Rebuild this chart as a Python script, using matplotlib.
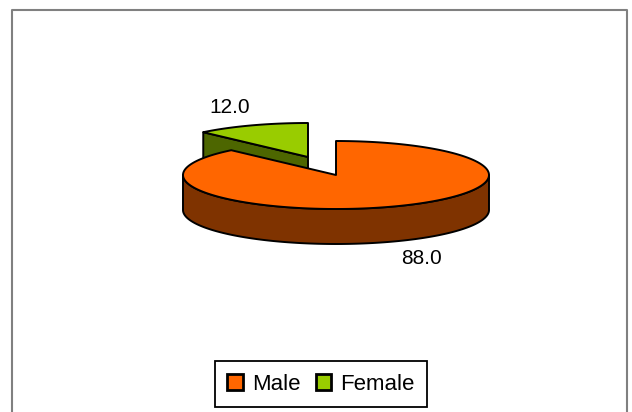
import numpy as np
import matplotlib
matplotlib.use("Agg")
import matplotlib.pyplot as plt
from matplotlib.patches import Polygon, Patch
from matplotlib.lines import Line2D

plt.rcParams['font.family'] = ['Liberation Sans', 'DejaVu Sans']

# data
labels = ['Male', 'Female']
values = [88.0, 12.0]
top_colors = ['#FF6600', '#99CC00']
side_colors = ['#7F3300', '#4D6600']
explode = [0.0, 1.0]   # female slice pulled out

# geometry of the 3d pie (pixels, y down)
W, H = 632, 412
cx, cy = 336, 175
a, b = 153, 34
depth = 35
pull = np.array([-28, -18])

fig = plt.figure(figsize=(W / 100, H / 100), dpi=100)
ax = fig.add_axes([0, 0, 1, 1])
ax.set_xlim(0, W)
ax.set_ylim(H, 0)
ax.axis('off')

# chart border (no bottom edge visible)
ax.add_line(Line2D([12, 12, 627, 627], [H + 5, 10, 10, H + 5], color='#808080', lw=1.5))


def rim(c, t, dz=0.0):
    t = np.radians(t)
    return np.column_stack([c[0] + a * np.cos(t), c[1] - b * np.sin(t) + dz])


fracs = np.array(values) / sum(values)
starts = 90 - 360 * np.concatenate([[0], np.cumsum(fracs)[:-1]])
ends = starts - 360 * fracs
centers = [np.array([cx, cy]) + e * pull for e in explode]

kw = dict(ec='black', lw=1.4, joinstyle='round')
# draw back slices first
order = [1, 0]
for i in order:
    c = centers[i]
    t0, t1 = starts[i], ends[i]   # clockwise from t0 to t1 (t1 < t0)
    # radial cut faces, drawn when they face the viewer
    for t, sgn in [(t1, 1), (t0, -1)]:
        r_ = np.radians(t)
        ny = sgn * -np.cos(r_)      # depth component of outward normal
        if ny < -1e-6:
            r = rim(c, [t])[0]
            pts = np.array([c, r, r + [0, depth], c + [0, depth]])
            ax.add_patch(Polygon(pts, fc=side_colors[i], **kw))
    # outer wall, front part only (sin t < 0)
    tt = np.linspace(t0, t1, 400)
    tt = tt[np.sin(np.radians(tt)) <= 0]
    if len(tt) > 1:
        pts = np.vstack([rim(c, tt), rim(c, tt[::-1], depth)])
        ax.add_patch(Polygon(pts, fc=side_colors[i], **kw))
    # top face
    ts = np.linspace(t0, t1, 200)
    pts = np.vstack([[c], rim(c, ts)])
    ax.add_patch(Polygon(pts, fc=top_colors[i], **kw))

# value labels
ax.text(230, 107, f'{values[1]:.1f}', fontsize=15, ha='center', va='center')
ax.text(421, 258, f'{values[0]:.1f}', fontsize=15, ha='center', va='center')

handles = [Patch(fc=top_colors[k], ec='black', lw=2) for k in range(2)]
leg = fig.legend(handles, labels, loc='center', bbox_to_anchor=(321 / W, 1 - 384 / H),
                 ncol=2, fontsize=16, frameon=True, fancybox=False, framealpha=1,
                 edgecolor='black', handlelength=0.7, handleheight=0.7,
                 handletextpad=0.4, columnspacing=0.7, borderpad=0.55)
leg.get_frame().set_linewidth(1.3)

fig.savefig('out.png', dpi=100)
